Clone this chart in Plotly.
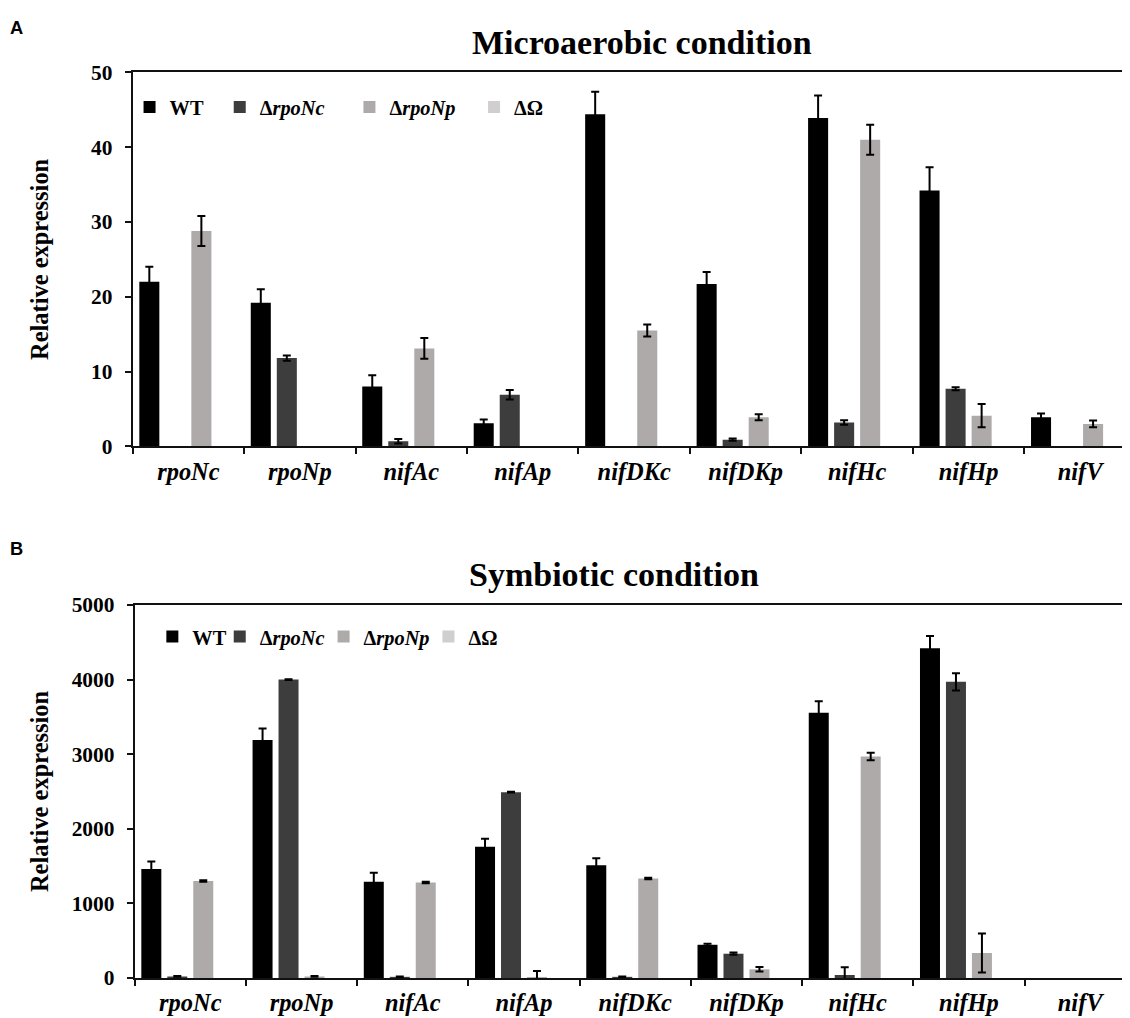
import plotly.graph_objects as go

genes = ["rpoNc", "rpoNp", "nifAc", "nifAp", "nifDKc", "nifDKp", "nifHc", "nifHp", "nifV"]
series_names = ["WT", "Δ<i>rpoNc</i>", "Δ<i>rpoNp</i>", "ΔΩ"]
colors = ["#000000", "#3d3d3d", "#aeaaaa", "#d0cece"]

# Panel A: microaerobic condition
wt_a = [22.0, 19.2, 8.0, 3.1, 44.4, 21.7, 43.9, 34.2, 3.9]
wt_a_err = [2.0, 1.8, 1.5, 0.5, 3.0, 1.6, 3.0, 3.1, 0.5]
rc_a = [0, 11.8, 0.7, 6.9, 0, 0.9, 3.2, 7.7, 0]
rc_a_err = [None, 0.35, 0.3, 0.65, None, 0.15, 0.3, 0.2, None]
rp_a = [28.8, 0, 13.1, 0, 15.5, 3.9, 41.0, 4.1, 3.0]
rp_a_err = [2.0, None, 1.4, None, 0.8, 0.4, 2.0, 1.55, 0.45]
om_a = [0, 0, 0, 0, 0, 0, 0, 0, 0]
om_a_err = [None, None, None, None, None, None, None, None, None]

# Panel B: symbiotic condition
wt_b = [1460, 3190, 1290, 1760, 1510, 445, 3555, 4420, 0]
wt_b_err = [100, 155, 120, 105, 95, 15, 155, 165, None]
rc_b = [20, 4000, 15, 2490, 15, 325, 40, 3970, 0]
rc_b_err = [5, 5, 5, 5, 5, 15, 105, 115, None]
rp_b = [1300, 20, 1280, 5, 1335, 116, 2970, 335, 0]
rp_b_err = [10, 5, 10, 90, 10, 30, 50, 260, None]
om_b = [0, 0, 0, 0, 0, 0, 0, 0, 0]
om_b_err = [None, None, None, None, None, None, None, None, None]

y_ticks_a = [0, 10, 20, 30, 40, 50]
y_ticks_b = [0, 1000, 2000, 3000, 4000, 5000]

W, H = 1130, 1018
SERIF = "Liberation Serif, Times New Roman, serif"
SANS = "Liberation Sans, Arial, sans-serif"

# the photographed page maps figure px -> screen px as: sx = 0.986*fx + 8, sy = 0.979*fy + 18.5
def fx(sx):
    return (sx - 8) / 0.986

def fy(sy):
    return (sy - 18.5) / 0.979

def px(sx):
    return fx(sx) / W

def py(sy):
    return 1 - fy(sy) / H

def fs(size):
    return size / 0.982

def err_list(errs):
    # missing error bars are given as NaN so plotly skips them
    return [e if e is not None else "NaN" for e in errs]

fig = go.Figure()

panel_a = [(wt_a, wt_a_err), (rc_a, rc_a_err), (rp_a, rp_a_err), (om_a, om_a_err)]
panel_b = [(wt_b, wt_b_err), (rc_b, rc_b_err), (rp_b, rp_b_err), (om_b, om_b_err)]

for i, (vals, errs) in enumerate(panel_a):
    fig.add_trace(go.Bar(
        x=genes, y=vals, name=series_names[i], marker=dict(color=colors[i], line=dict(width=0)),
        error_y=dict(type="data", array=err_list(errs), visible=True, color="#000000", thickness=2, width=4),
        xaxis="x", yaxis="y", legend=f"legend{i+2}", showlegend=True,
    ))
for i, (vals, errs) in enumerate(panel_b):
    fig.add_trace(go.Bar(
        x=genes, y=vals, name=series_names[i], marker=dict(color=colors[i], line=dict(width=0)),
        error_y=dict(type="data", array=err_list(errs), visible=True, color="#000000", thickness=2, width=4),
        xaxis="x2", yaxis="y2", legend=f"legend{i+6}", showlegend=True,
    ))

tick_font = dict(family=SERIF, size=fs(21), color="#000000", weight="bold")
cat_font = dict(family=SERIF, size=fs(24), color="#000000", weight="bold", style="italic")
title_font = dict(family=SERIF, size=fs(24), color="#000000", weight="bold")

common_x = dict(type="category", showline=True, linecolor="#111111", linewidth=2, mirror=True,
                ticks="outside", ticklen=6, tickwidth=2, tickcolor="#111111", tickson="boundaries",
                tickfont=cat_font, showgrid=False, zeroline=False, ticklabelstandoff=2)
common_y = dict(showline=True, linecolor="#111111", linewidth=2, mirror=True,
                ticks="outside", ticklen=6, tickwidth=2, tickcolor="#111111",
                tickfont=tick_font, showgrid=False, zeroline=False, ticklabelstandoff=8)

fig.update_layout(
    width=W, height=H,
    margin=dict(l=0, r=0, t=0, b=0),
    paper_bgcolor="white", plot_bgcolor="white",
    showlegend=True,
    barmode="group", bargap=0.066, bargroupgap=0.23,
    xaxis=dict(domain=[px(131), px(1121)], anchor="y", **common_x),
    yaxis=dict(domain=[py(446), py(71)], anchor="x", range=[0, 50],
               tickvals=y_ticks_a, ticktext=[str(v) for v in y_ticks_a],
               title=dict(text="Relative expression", font=title_font, standoff=35), **common_y),
    xaxis2=dict(domain=[px(133), px(1121)], anchor="y2", **common_x),
    yaxis2=dict(domain=[py(979), py(605)], anchor="x2", range=[0, 5000],
                tickvals=y_ticks_b, ticktext=[str(v) for v in y_ticks_b],
                title=dict(text="Relative expression", font=title_font, standoff=16), **common_y),
)

legend_font = dict(family=SERIF, size=fs(20), color="#000000", weight="bold")
# screen x of the middle between each legend square and its text
leg_a_mid = [160, 249, 377, 500]
leg_b_mid = [182.5, 249, 351.5, 455]
leg_a_y, leg_b_y = 106, 637
for i in range(8):
    key = f"legend{i+2}"
    mid = leg_a_mid[i] if i < 4 else leg_b_mid[i - 4]
    sy = leg_a_y if i < 4 else leg_b_y
    fig.update_layout({key: dict(
        x=(fx(mid) - 32.5) / W, y=py(sy), xanchor="left", yanchor="middle",
        orientation="h", font=legend_font, bgcolor="rgba(0,0,0,0)", borderwidth=0,
        itemwidth=30, traceorder="normal", visible=True,
    )})

fig.add_annotation(text="Microaerobic condition", x=px(634), y=py(41), xref="paper", yref="paper",
                   xanchor="center", yanchor="middle", showarrow=False,
                   font=dict(family=SERIF, size=fs(33.4), color="#000000", weight="bold"))
fig.add_annotation(text="Symbiotic condition", x=px(606), y=py(574), xref="paper", yref="paper",
                   xanchor="center", yanchor="middle", showarrow=False,
                   font=dict(family=SERIF, size=fs(33.4), color="#000000", weight="bold"))
fig.add_annotation(text="A", x=px(16), y=1 - 7.5 / H, xref="paper", yref="paper",
                   xanchor="center", yanchor="middle", showarrow=False,
                   font=dict(family=SANS, size=fs(18), color="#000000", weight="bold"))
fig.add_annotation(text="B", x=px(16), y=py(548), xref="paper", yref="paper",
                   xanchor="center", yanchor="middle", showarrow=False,
                   font=dict(family=SANS, size=fs(18), color="#000000", weight="bold"))

fig.write_html("out.html")
